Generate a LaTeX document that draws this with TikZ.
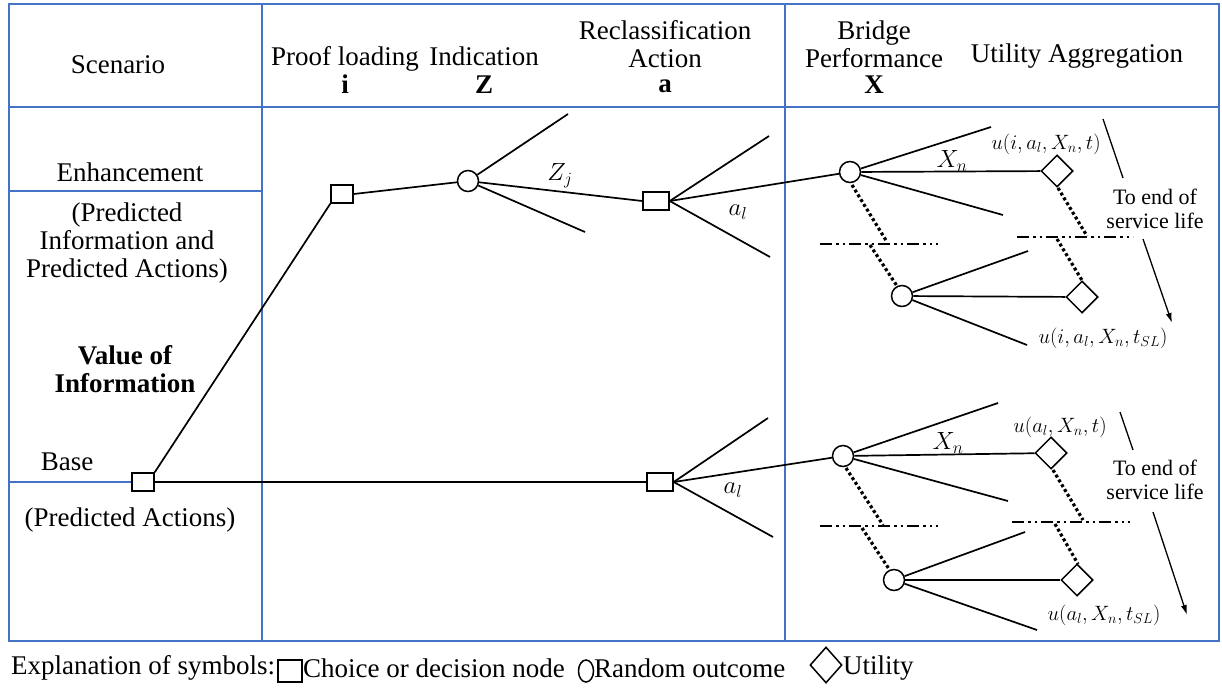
\documentclass[tikz,border=0pt]{standalone}
\usepackage{fontspec}
\setmainfont{Liberation Serif}
\usetikzlibrary{shapes.geometric,arrows.meta}
\definecolor{frameblue}{HTML}{4472C4}
\begin{document}
\begin{tikzpicture}[x=1pt,y=-1pt,
  frame/.style={draw=frameblue,line width=1.2pt},
  txt/.style={font=\fontsize{27}{28}\selectfont,align=center,inner sep=0pt},
  smalltxt/.style={font=\fontsize{22}{24}\selectfont,align=center,inner sep=0pt},
  mlbl/.style={font=\fontsize{22.5}{24}\selectfont,inner sep=0pt},
  slbl/.style={font=\fontsize{24}{26}\selectfont,inner sep=0pt},
  decbox/.style={draw,rectangle,minimum width=22pt,minimum height=18pt,inner sep=0pt,line width=1.5pt,fill=white},
  recbox/.style={decbox,minimum width=26pt},
  chance/.style={draw,circle,minimum size=21pt,inner sep=0pt,line width=1.5pt,fill=white},
  util/.style={draw,diamond,minimum width=32pt,minimum height=32pt,inner sep=0pt,line width=1.5pt,fill=white},
  branch/.style={line width=1.7pt},
  timeline/.style={line width=3.2pt,dash pattern=on 3pt off 2.6pt},
  breakline/.style={line width=1.6pt,dash pattern=on 12pt off 4pt on 2.5pt off 4pt on 2.5pt off 4pt},
  lifearrow/.style={line width=1.3pt,-{Latex[length=10pt,width=6pt]}},
]
\useasboundingbox (0,0) rectangle (1222,689);

% table frame
\draw[frame] (9,4) rectangle (1219,641);
\draw[frame] (9,107) -- (1219,107);
\draw[frame] (262,4) -- (262,641);
\draw[frame] (785,4) -- (785,641);
\draw[frame] (9,191) -- (262,191);
\draw[frame] (9,482) -- (262,482);

% header
\node[txt] (hscen) at (118,65) {Scenario};
\node[txt] (hproof) at (345,70) {Proof loading\\\textbf{i}};
\node[txt] (hind) at (484,70) {Indication\\\textbf{Z}};
\node[txt] (hrec) at (665,57) {Reclassification\\Action\\[-3pt]\textbf{a}};
\node[txt] (hbr) at (874,57) {Bridge\\Performance\\[-2pt]\textbf{X}};
\node[txt] (hutil) at (1077,56) {Utility Aggregation};

% left column
\node[txt] (enh) at (130,172) {Enhancement};
\node[txt] (enhsub) at (127,243) {(Predicted\\Information and\\Predicted Actions)};
\node[txt,font=\fontsize{27}{28}\selectfont\bfseries] (voi) at (125,369) {Value of\\Information};
\node[txt] (base) at (67,462) {Base};
\node[txt] (basesub) at (130,520) {(Predicted Actions)};

% tree nodes
\node[decbox] (d0) at (143,482) {};
\node[decbox] (d1) at (342,194) {};
\node[chance] (c1) at (468,181) {};
\node[recbox] (r1) at (656,201) {};
\node[recbox] (r2) at (660,482) {};
\node[chance] (b1) at (850,172) {};
\node[util] (u1) at (1057,171) {};
\node[chance] (b2) at (902,296) {};
\node[util] (u2) at (1082,297) {};
\node[chance] (b3) at (843,456) {};
\node[util] (u3) at (1051,453) {};
\node[chance] (b4) at (894,580) {};
\node[util] (u4) at (1077,580) {};

% free branch ends
\coordinate (c1up) at (568,114);
\coordinate (c1dn) at (585,232);
\coordinate (r1up) at (769,136);
\coordinate (r1dn) at (770,257);
\coordinate (r2up) at (768,418);
\coordinate (r2dn) at (773,537);
\coordinate (b1up) at (991,127);
\coordinate (b1dn) at (1003,215);
\coordinate (b2up) at (1028,251);
\coordinate (b2dn) at (1027,345);
\coordinate (b3up) at (998,403);
\coordinate (b3dn) at (1008,501);
\coordinate (b4up) at (1025,532);
\coordinate (b4dn) at (1037,630);

% connectors
\draw[branch] (d0.north east) -- (d1.south west);
\draw[branch] (d0.east) -- (r2.west);
\draw[branch] (d1.east) -- (c1);
\draw[branch] (c1) -- (r1.west);
\draw[branch] (c1) -- (c1up);
\draw[branch] (c1) -- (c1dn);
\draw[branch] (r1.east) -- (r1up);
\draw[branch] (r1.east) -- (r1dn);
\draw[branch] (r1.east) -- (b1);
\draw[branch] (r2.east) -- (r2up);
\draw[branch] (r2.east) -- (r2dn);
\draw[branch] (r2.east) -- (b3);
\draw[branch] (b1) -- (b1up);
\draw[branch] (b1) -- (b1dn);
\draw[branch] (b1) -- (u1);
\draw[branch] (b2) -- (b2up);
\draw[branch] (b2) -- (b2dn);
\draw[branch] (b2) -- (u2);
\draw[branch] (b3) -- (b3up);
\draw[branch] (b3) -- (b3dn);
\draw[branch] (b3) -- (u3);
\draw[branch] (b4) -- (b4up);
\draw[branch] (b4) -- (b4dn);
\draw[branch] (b4) -- (u4);

% branch labels
\node[slbl] (lzj) at (560,176) {$Z_j$};
\node[slbl] (lal1) at (738,212) {$a_l$};
\node[slbl] (lal2) at (733,490) {$a_l$};
\node[slbl] (lxn1) at (952,161) {$X_n$};
\node[slbl] (lxn2) at (948,443) {$X_n$};
\node[mlbl] (lu1) at (1046,144) {$u(i,a_l,X_n,t)$};
\node[mlbl] (lu2) at (1103,338) {$u(i,a_l,X_n,t_{SL})$};
\node[mlbl] (lu3) at (1060,427) {$u(a_l,X_n,t)$};
\node[mlbl] (lu4) at (1104,615) {$u(a_l,X_n,t_{SL})$};

% time continuation (upper block)
\coordinate (t1a) at (852,185); \coordinate (t1b) at (887,242);
\coordinate (t1c) at (870,245); \coordinate (t1d) at (897,286);
\coordinate (t2a) at (1058,188); \coordinate (t2b) at (1087,236);
\coordinate (t2c) at (1057,239); \coordinate (t2d) at (1083,282);
\draw[timeline] (t1a) -- (t1b);
\draw[timeline] (t1c) -- (t1d);
\draw[timeline] (t2a) -- (t2b);
\draw[timeline] (t2c) -- (t2d);
\coordinate (k1a) at (820,244); \coordinate (k1b) at (938,244);
\coordinate (k2a) at (1017,237); \coordinate (k2b) at (1133,237);
\draw[breakline] (k1a) -- (k1b);
\draw[breakline] (k2a) -- (k2b);

% time continuation (lower block)
\coordinate (t3a) at (846,468); \coordinate (t3b) at (883,525);
\coordinate (t3c) at (862,528); \coordinate (t3d) at (889,569);
\coordinate (t4a) at (1053,470); \coordinate (t4b) at (1083,520);
\coordinate (t4c) at (1055,524); \coordinate (t4d) at (1078,564);
\draw[timeline] (t3a) -- (t3b);
\draw[timeline] (t3c) -- (t3d);
\draw[timeline] (t4a) -- (t4b);
\draw[timeline] (t4c) -- (t4d);
\coordinate (k3a) at (820,526); \coordinate (k3b) at (938,526);
\coordinate (k4a) at (1012,522); \coordinate (k4b) at (1130,522);
\draw[breakline] (k3a) -- (k3b);
\draw[breakline] (k4a) -- (k4b);

% end of service life
\node[smalltxt] (eol1) at (1155,209) {To end of\\service life};
\node[smalltxt] (eol2) at (1155,480) {To end of\\service life};
\coordinate (e1a) at (1103,119); \coordinate (e1b) at (1123,178);
\coordinate (e1c) at (1143,239); \coordinate (e1d) at (1172,323);
\coordinate (e2a) at (1120,412); \coordinate (e2b) at (1133,450);
\coordinate (e2c) at (1153,512); \coordinate (e2d) at (1187,615);
\draw[line width=1.3pt] (e1a) -- (e1b);
\draw[lifearrow] (e1c) -- (e1d);
\draw[line width=1.3pt] (e2a) -- (e2b);
\draw[lifearrow] (e2c) -- (e2d);

% legend
\node[txt,anchor=west] (lgt) at (11,668) {Explanation of symbols:};
\node[decbox,minimum width=24pt,minimum height=22pt] (lgd) at (290,671) {};
\node[txt,anchor=west] (lg1) at (303,668) {Choice or decision node};
\node[draw,ellipse,minimum width=15pt,minimum height=22pt,inner sep=0pt,line width=1.5pt] (lgc) at (586,671) {};
\node[txt,anchor=west] (lg2) at (594,668) {Random outcome};
\node[util,minimum width=32pt,minimum height=36pt] (lgu) at (826,665) {};
\node[txt,anchor=west] (lg3) at (843,668) {Utility};
\end{tikzpicture}
\end{document}
